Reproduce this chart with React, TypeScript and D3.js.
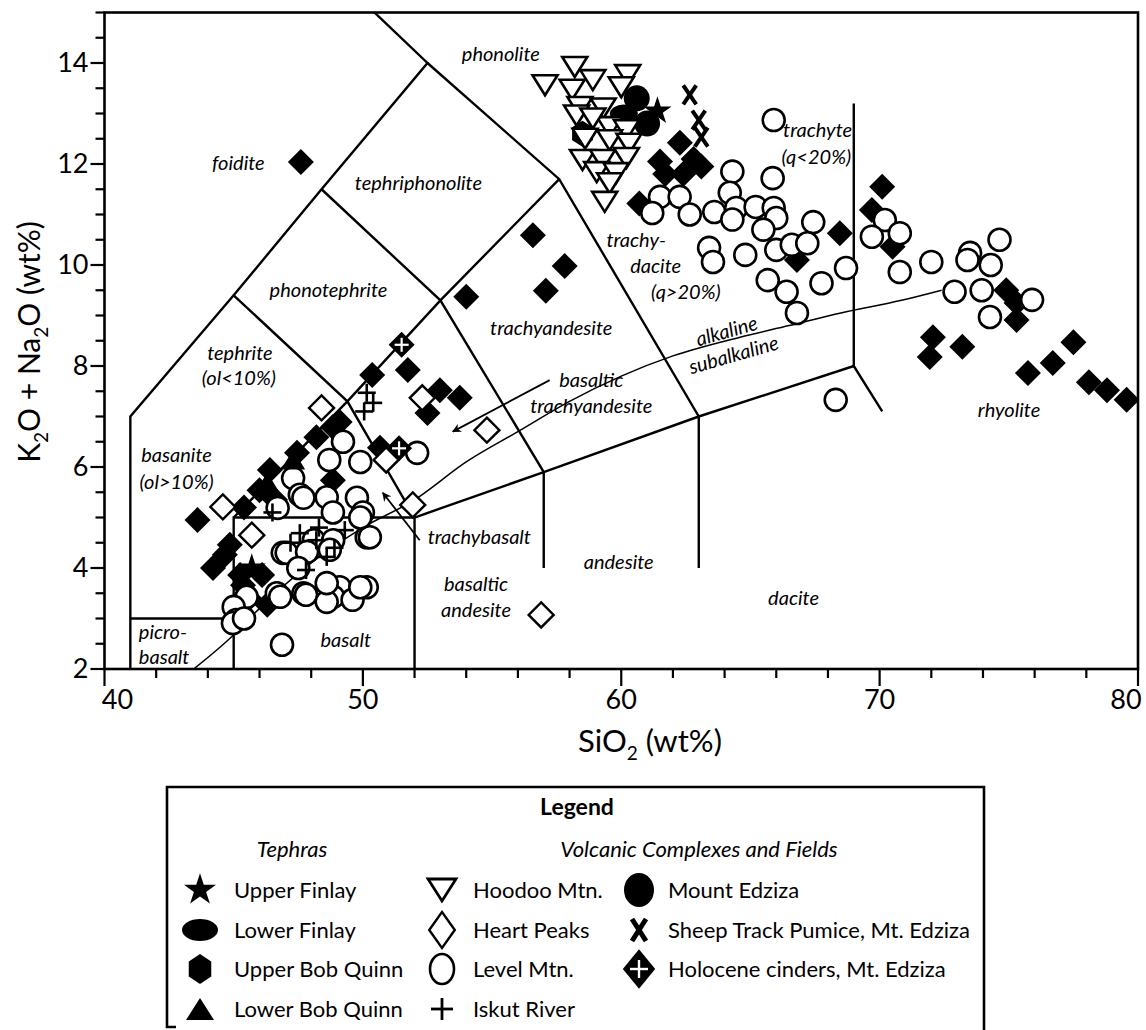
import React from "react";
import * as d3 from "d3";

type P = [number, number];

// ---------- axes ----------
const xMinorTicks = d3.range(40, 80.01, 2);
const xLabelTicks = [40, 50, 60, 70, 80];
const yMinorTicks = d3.range(2, 15.01, 0.5);
const yLabelTicks = [2, 4, 6, 8, 10, 12, 14];

// ---------- data (SiO2 wt%, Na2O+K2O wt%) ----------
const edzizaDiamonds: P[] = [
  [43.6, 4.95], [44.2, 4.0], [44.66, 4.26], [44.85, 4.46], [45.25, 3.86], [45.36, 3.66],
  [45.6, 3.4], [46.1, 3.86], [46.3, 3.27], [45.4, 5.2], [46.0, 5.54], [46.4, 5.94],
  [46.6, 5.35], [47.45, 6.28], [48.2, 6.59], [48.84, 6.79], [49.1, 6.89], [48.84, 5.74],
  [50.66, 6.38], [50.36, 7.82], [51.74, 7.92], [52.98, 7.52], [53.75, 7.37], [52.5, 7.07],
  [54.0, 9.37], [56.58, 10.59], [57.81, 9.98], [57.08, 9.49], [47.6, 12.04],
  [62.27, 12.42], [61.5, 12.05], [61.7, 11.8], [62.4, 11.8], [63.1, 11.95], [62.8, 12.1],
  [60.7, 11.22], [68.46, 10.63], [66.8, 10.1], [70.1, 11.55], [69.7, 11.09], [70.5, 10.36],
  [74.9, 9.5], [75.3, 9.25], [75.3, 8.91], [72.06, 8.57], [71.94, 8.18], [73.2, 8.38],
  [75.74, 7.86], [76.7, 8.06], [77.5, 8.47], [78.1, 7.68], [78.8, 7.52], [79.56, 7.33],
];

const levelMtn: P[] = [
  [49.23, 6.5], [48.7, 6.14], [49.9, 6.1], [47.3, 5.78], [47.56, 5.45], [48.6, 5.4],
  [49.77, 5.39], [46.7, 5.19], [48.84, 5.1], [50.0, 5.1], [52.1, 6.28], [50.15, 4.61],
  [46.9, 4.3], [48.1, 4.55], [48.85, 4.55], [49.1, 3.62], [50.15, 3.62], [47.7, 3.5],
  [46.67, 3.5], [45.5, 3.43], [45.0, 3.23], [45.1, 2.97], [44.97, 2.91], [45.4, 3.0],
  [48.85, 3.43], [49.6, 3.37], [46.87, 2.48], [46.8, 3.43], [47.8, 3.47], [48.6, 3.33],
  [49.9, 3.62], [48.6, 3.7], [47.05, 4.3], [47.84, 4.32], [48.72, 4.36], [50.27, 4.61],
  [47.7, 5.39], [47.5, 4.0], [49.9, 5.0],
  [61.5, 11.35], [62.26, 11.35], [62.65, 11.0], [61.2, 11.03], [64.3, 11.85], [65.86, 11.72],
  [64.2, 11.43], [63.6, 11.05], [64.45, 11.13], [65.2, 11.15], [65.9, 11.13], [66.0, 10.93],
  [64.3, 10.9], [65.5, 10.7], [67.43, 10.85], [63.4, 10.34], [63.55, 10.06], [64.8, 10.2],
  [66.0, 10.3], [66.6, 10.4], [67.2, 10.43], [65.67, 9.7], [66.4, 9.47], [67.75, 9.64],
  [68.7, 9.94], [66.8, 9.05], [65.9, 12.87],
  [70.2, 10.89], [70.78, 10.63], [69.7, 10.56], [70.78, 9.86], [72.0, 10.06], [73.5, 10.24],
  [73.4, 10.1], [74.3, 10.0], [74.64, 10.5], [72.9, 9.47], [73.95, 9.5], [75.9, 9.31],
  [74.27, 8.97], [68.3, 7.33],
];

const hoodooMtn: P[] = [
  [57.05, 13.56], [58.2, 13.92], [58.1, 13.47], [58.9, 13.66], [60.25, 13.76], [60.0, 13.52],
  [58.4, 13.13], [59.3, 13.1], [58.27, 12.96], [59.55, 12.73], [60.2, 12.67], [59.55, 12.47],
  [60.3, 12.4], [58.5, 12.08], [59.28, 12.08], [60.2, 12.12], [59.05, 11.84], [59.8, 11.82],
  [59.55, 11.62], [59.36, 11.25], [58.9, 12.9], [58.6, 12.5],
];

const heartPeaks: P[] = [
  [48.4, 7.17], [52.3, 7.37], [54.8, 6.73], [51.93, 5.25], [56.9, 3.07], [44.58, 5.21],
  [45.7, 4.65], [50.9, 6.14],
];

const iskutRiver: P[] = [
  [50.15, 7.47], [50.4, 7.27], [50.05, 7.1], [47.56, 4.69], [48.2, 4.55], [48.6, 4.22],
  [47.8, 3.96], [48.3, 4.8], [46.5, 5.1], [48.9, 4.4], [47.2, 4.5], [49.3, 4.75],
];

const holoceneCinders: P[] = [[51.5, 8.42], [51.4, 6.37]];
const sheepTrack: P[] = [[62.65, 13.37], [63.0, 12.87], [63.1, 12.53]];
const mountEdzizaCircles: P[] = [[60.6, 13.3], [61.0, 12.8]];
const upperFinlay: P[] = [[61.4, 13.05], [45.7, 4.0]];
const lowerFinlay: P[] = [[60.1, 13.0]];
const upperBobQuinn: P[] = [[58.5, 12.6]];
const lowerBobQuinn: P[] = [[47.3, 6.15], [46.3, 5.7]];

// ---------- TAS field boundaries ----------
const boundaries: P[][] = [
  [[41, 2], [41, 7], [45, 9.4], [48.4, 11.5], [52.5, 14], [48.4, 16]],
  [[41, 3], [45, 3]],
  [[45, 2], [45, 5], [52, 5]],
  [[52, 2], [52, 5], [57, 5.9], [63, 7], [69, 8], [70.1, 7.1]],
  [[45, 5], [49.4, 7.3], [53, 9.3], [57.6, 11.7]],
  [[45, 9.4], [49.4, 7.3], [52, 5]],
  [[48.4, 11.5], [53, 9.3], [57, 5.9], [57, 4]],
  [[52.5, 14], [57.6, 11.7], [63, 7], [63, 4]],
  [[69, 8], [69, 13.2]],
];

const alkalineCurve: P[] = [
  [43.45, 2], [44.9, 2.63], [46, 3.2], [48, 4.1], [50, 4.8], [52, 5.35], [54, 6.1],
  [56, 6.7], [58, 7.3], [60, 7.8], [62, 8.2], [64.6, 8.57], [66.5, 8.8], [68.5, 9.05],
  [70.85, 9.3], [72.4, 9.5],
];

const arrows: [P, P][] = [
  [[57.23, 7.72], [53.48, 6.7]],
  [[52.2, 4.55], [50.77, 5.49]],
];

type Lab = { t: string; x: number; y: number; a?: string; r?: number };
const fieldLabels: Lab[] = [
  { t: "phonolite", x: 55.34, y: 14.18 },
  { t: "foidite", x: 45.18, y: 12.02 },
  { t: "tephriphonolite", x: 52.15, y: 11.62 },
  { t: "phonotephrite", x: 48.67, y: 9.5 },
  { t: "tephrite", x: 45.24, y: 8.26 },
  { t: "(ol<10%)", x: 45.2, y: 7.76 },
  { t: "basanite", x: 42.79, y: 6.24 },
  { t: "(ol>10%)", x: 42.79, y: 5.7 },
  { t: "picro-", x: 41.33, y: 2.73, a: "start" },
  { t: "basalt", x: 41.33, y: 2.24, a: "start" },
  { t: "basalt", x: 49.34, y: 2.57 },
  { t: "trachybasalt", x: 52.51, y: 4.61, a: "start" },
  { t: "basaltic", x: 54.38, y: 3.68 },
  { t: "andesite", x: 54.38, y: 3.17 },
  { t: "andesite", x: 59.9, y: 4.12 },
  { t: "dacite", x: 66.67, y: 3.41 },
  { t: "rhyolite", x: 75.01, y: 7.13 },
  { t: "trachyandesite", x: 57.29, y: 8.75 },
  { t: "basaltic", x: 58.84, y: 7.72 },
  { t: "trachyandesite", x: 58.84, y: 7.21 },
  { t: "trachy-", x: 60.58, y: 10.5 },
  { t: "dacite", x: 61.33, y: 9.98 },
  { t: "(q>20%)", x: 62.5, y: 9.47 },
  { t: "trachyte", x: 67.6, y: 12.67 },
  { t: "(q<20%)", x: 67.55, y: 12.14 },
  { t: "alkaline", x: 64.08, y: 8.69, r: -16 },
  { t: "subalkaline", x: 64.35, y: 8.22, r: -16 },
];

// ---------- layout ----------
const W = 1146;
const H = 1030;
const L = 104.5, R = 1138, T = 12.5, B = 669;
const x = d3.scaleLinear().domain([40, 80]).range([L, R]);
const y = d3.scaleLinear().domain([2, 15]).range([B, T]);
const FONT = "Lato, 'Open Sans', sans-serif";

const diamond = (s: number) => `M0,${-s}L${s},0L0,${s}L${-s},0Z`;
const triDown = (w: number, h: number) => `M${-w / 2},${-h / 2}L${w / 2},${-h / 2}L0,${h / 2}Z`;
const triUp = (w: number, h: number) => `M${-w / 2},${h / 2}L${w / 2},${h / 2}L0,${-h / 2}Z`;
const hexagon = (rx: number, ry: number) =>
  d3.range(6).map((i) => {
    const a = (Math.PI / 3) * i + Math.PI / 6;
    return `${i ? "L" : "M"}${(rx * Math.cos(a)).toFixed(2)},${(ry * Math.sin(a)).toFixed(2)}`;
  }).join("") + "Z";
const star = (r: number) => d3.symbol(d3.symbolStar, r * r * 1.1)() as string;

const Plus = ({ a, sw, color }: { a: number; sw: number; color: string }) => (
  <g stroke={color} strokeWidth={sw}>
    <line x1={-a} x2={a} y1={0} y2={0} />
    <line x1={0} x2={0} y1={-a} y2={a} />
  </g>
);

const XMark = ({ w, h, sw }: { w: number; h: number; sw: number }) => (
  <g stroke="#000" strokeWidth={sw}>
    <line x1={-w / 2} y1={-h / 2} x2={w / 2} y2={h / 2} />
    <line x1={w / 2} y1={-h / 2} x2={-w / 2} y2={h / 2} />
  </g>
);

export default function App() {
  const line = d3.line<P>().x((d) => x(d[0])).y((d) => y(d[1]));
  const curve = d3.line<P>().x((d) => x(d[0])).y((d) => y(d[1])).curve(d3.curveMonotoneX);
  const tr = (d: P) => `translate(${x(d[0])},${y(d[1])})`;

  // legend layout
  const lgTop = 787;
  const rows = [890, 930, 969, 1009];
  const c1 = 200, c2 = 442, c3 = 639;
  const t1 = 234, t2 = 473, t3 = 668;
  const lfs = 22;

  return (
    <div style={{ position: "absolute", left: 0, top: 0, width: W, height: H, background: "#fff" }}>
      <svg width={W} height={H} style={{ display: "block" }} fontFamily={FONT}>
        <defs>
          <clipPath id="plotclip">
            <rect x={L} y={T} width={R - L} height={B - T} />
          </clipPath>
          <marker id="ah" viewBox="0 0 10 10" refX="9" refY="5" markerWidth="9" markerHeight="9" orient="auto" markerUnits="userSpaceOnUse">
            <path d="M0,0L10,5L0,10L3,5Z" fill="#000" />
          </marker>
        </defs>

        {/* field boundaries */}
        <g clipPath="url(#plotclip)" fill="none" stroke="#000" strokeWidth={2.4} strokeLinejoin="miter">
          {boundaries.map((b, i) => (
            <path key={i} d={line(b) as string} />
          ))}
          <path d={curve(alkalineCurve) as string} strokeWidth={1.5} />
          {arrows.map((a, i) => (
            <line key={i} x1={x(a[0][0])} y1={y(a[0][1])} x2={x(a[1][0])} y2={y(a[1][1])} strokeWidth={1.8} markerEnd="url(#ah)" />
          ))}
        </g>

        {/* field labels */}
        <g fontStyle="italic" fontSize={20} fill="#000">
          {fieldLabels.map((l, i) => (
            <text key={i} x={x(l.x)} y={y(l.y)} dy="0.35em" textAnchor={l.a || "middle"}
              transform={l.r ? `rotate(${l.r},${x(l.x)},${y(l.y)})` : undefined}>
              {l.t}
            </text>
          ))}
        </g>

        {/* data */}
        <g clipPath="url(#plotclip)">
          {edzizaDiamonds.map((d, i) => (
            <path key={"ed" + i} transform={tr(d)} d={diamond(13)} fill="#000" />
          ))}
          {levelMtn.map((d, i) => (
            <circle key={"lm" + i} cx={x(d[0])} cy={y(d[1])} r={11} fill="#fff" stroke="#000" strokeWidth={2.6} />
          ))}
          {heartPeaks.map((d, i) => (
            <path key={"hp" + i} transform={tr(d)} d={diamond(12.5)} fill="#fff" stroke="#000" strokeWidth={2.4} />
          ))}
          {mountEdzizaCircles.map((d, i) => (
            <circle key={"me" + i} cx={x(d[0])} cy={y(d[1])} r={13} fill="#000" />
          ))}
          {upperFinlay.map((d, i) => (
            <path key={"uf" + i} transform={tr(d)} d={star(15)} fill="#000" />
          ))}
          {lowerFinlay.map((d, i) => (
            <ellipse key={"lf" + i} cx={x(d[0])} cy={y(d[1])} rx={14} ry={9} fill="#000" />
          ))}
          {upperBobQuinn.map((d, i) => (
            <path key={"ub" + i} transform={tr(d)} d={hexagon(12, 13)} fill="#000" />
          ))}
          {lowerBobQuinn.map((d, i) => (
            <path key={"lb" + i} transform={tr(d)} d={triUp(24, 20)} fill="#000" />
          ))}
          {hoodooMtn.map((d, i) => (
            <path key={"hm" + i} transform={tr(d)} d={triDown(25, 20)} fill="#fff" stroke="#000" strokeWidth={2.6} strokeLinejoin="miter" />
          ))}
          {iskutRiver.map((d, i) => (
            <g key={"ir" + i} transform={tr(d)}>
              <Plus a={9} sw={2.6} color="#000" />
            </g>
          ))}
          {sheepTrack.map((d, i) => (
            <g key={"st" + i} transform={tr(d)}>
              <XMark w={13} h={19} sw={4} />
            </g>
          ))}
          {holoceneCinders.map((d, i) => (
            <g key={"hc" + i} transform={tr(d)}>
              <path d={diamond(13)} fill="#000" />
              <Plus a={7} sw={2.2} color="#fff" />
            </g>
          ))}
        </g>

        {/* frame */}
        <rect x={L} y={T} width={R - L} height={B - T} fill="none" stroke="#000" strokeWidth={2.6} />

        {/* ticks */}
        <g stroke="#000" strokeWidth={2.2}>
          {xMinorTicks.map((t) => (
            <line key={t} x1={x(t)} x2={x(t)} y1={B} y2={B + (t % 10 === 0 ? 17 : 9)} />
          ))}
          {yMinorTicks.map((t) => (
            <line key={t} y1={y(t)} y2={y(t)} x1={L} x2={L - (t % 2 === 0 ? 14 : 9)} />
          ))}
        </g>
        <g fontSize={27} fill="#000">
          {xLabelTicks.map((t) => (
            <text key={t} x={x(t) + (t === 40 ? 13 : t === 80 ? -12 : 0)} y={B + 40} textAnchor="middle">{t}</text>
          ))}
          {yLabelTicks.map((t) => (
            <text key={t} x={L - 16} y={y(t)} dy="0.35em" textAnchor="end">{t}</text>
          ))}
        </g>
        <text x={650} y={752} fontSize={31} textAnchor="middle">
          SiO<tspan fontSize={19} dy={8}>2</tspan><tspan dy={-8}> (wt%)</tspan>
        </text>
        <text transform={`translate(40,${342}) rotate(-90)`} fontSize={30} textAnchor="middle">
          K<tspan fontSize={19} dy={8}>2</tspan><tspan dy={-8}>O + Na</tspan><tspan fontSize={19} dy={8}>2</tspan><tspan dy={-8}>O (wt%)</tspan>
        </text>

        {/* legend */}
        <path d={`M176,1027H167V${lgTop}H984V1035`} fill="none" stroke="#000" strokeWidth={2.6} />
        <text x={577} y={815} fontSize={23} fontWeight="bold" textAnchor="middle">Legend</text>
        <text x={292} y={857} fontSize={lfs} fontStyle="italic" textAnchor="middle">Tephras</text>
        <text x={699} y={857} fontSize={lfs} fontStyle="italic" textAnchor="middle">Volcanic Complexes and Fields</text>

        <path transform={`translate(${c1},${rows[0]})`} d={star(17)} fill="#000" />
        <ellipse cx={c1} cy={rows[1]} rx={18} ry={11} fill="#000" />
        <path transform={`translate(${c1},${rows[2]})`} d={hexagon(13, 15)} fill="#000" />
        <path transform={`translate(${c1},${rows[3]})`} d={triUp(28, 22)} fill="#000" />

        <path transform={`translate(${c2},${rows[0]})`} d={triDown(28, 22)} fill="#fff" stroke="#000" strokeWidth={2.8} />
        <path transform={`translate(${c2},${rows[1]}) scale(0.85,1.2)`} d={diamond(15)} fill="#fff" stroke="#000" strokeWidth={2.5} />
        <ellipse cx={c2} cy={rows[2]} rx={12} ry={15} fill="#fff" stroke="#000" strokeWidth={2.6} />
        <g transform={`translate(${c2},${rows[3]})`}><Plus a={11} sw={2.8} color="#000" /></g>

        <ellipse cx={c3} cy={rows[0]} rx={15} ry={17} fill="#000" />
        <g transform={`translate(${c3},${rows[1]})`}><XMark w={14} h={22} sw={5} /></g>
        <g transform={`translate(${c3},${rows[2]})`}>
          <path transform="scale(0.9,1.1)" d={diamond(18)} fill="#000" />
          <Plus a={9} sw={2.4} color="#fff" />
        </g>

        <g fontSize={lfs} fill="#000">
          {["Upper Finlay", "Lower Finlay", "Upper Bob Quinn", "Lower Bob Quinn"].map((s, i) => (
            <text key={s} x={t1} y={rows[i]} dy="0.35em">{s}</text>
          ))}
          {["Hoodoo Mtn.", "Heart Peaks", "Level Mtn.", "Iskut River"].map((s, i) => (
            <text key={s} x={t2} y={rows[i]} dy="0.35em">{s}</text>
          ))}
          {["Mount Edziza", "Sheep Track Pumice, Mt. Edziza", "Holocene cinders, Mt. Edziza"].map((s, i) => (
            <text key={s} x={t3} y={rows[i]} dy="0.35em">{s}</text>
          ))}
        </g>
      </svg>
    </div>
  );
}
